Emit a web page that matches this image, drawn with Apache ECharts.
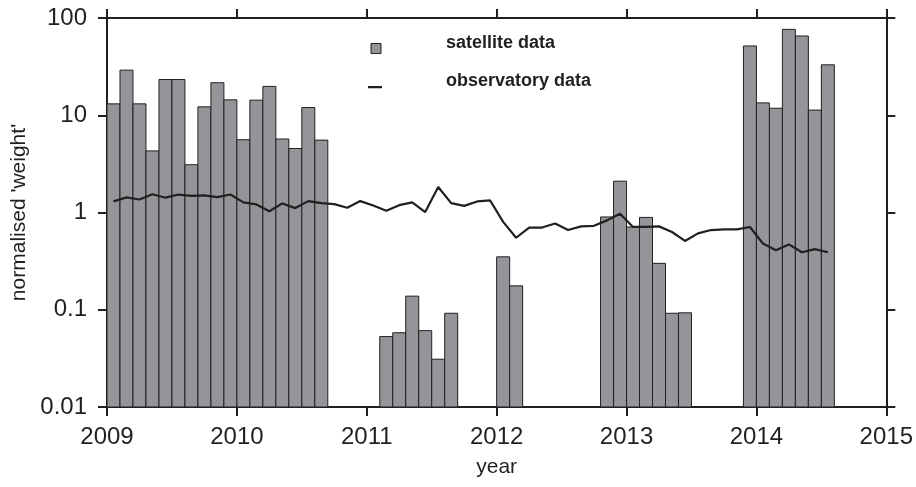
<!DOCTYPE html>
<html>
<head>
<meta charset="utf-8">
<script src="https://cdn.jsdelivr.net/npm/echarts@6/dist/echarts.min.js"></script>
<style>
html,body{margin:0;padding:0;background:#fff;}
#chart{width:916px;height:487px;}
</style>
</head>
<body>
<div id="chart"></div>
<script>
// ---- data (decimal years, normalised weight) ----
var satTime = [
  2009.0, 2009.1, 2009.2, 2009.3, 2009.4, 2009.5, 2009.6, 2009.7, 2009.8, 2009.9,
  2010.0, 2010.1, 2010.2, 2010.3, 2010.4, 2010.5, 2010.6,
  2011.1, 2011.2, 2011.3, 2011.4, 2011.5, 2011.6,
  2012.0, 2012.1,
  2012.8, 2012.9, 2013.0, 2013.1, 2013.2, 2013.3, 2013.4,
  2013.9, 2014.0, 2014.1, 2014.2, 2014.3, 2014.4, 2014.5
];
var satValue = [
  13.1, 29.1, 13.1, 4.3, 23.3, 23.3, 3.1, 12.2, 21.6, 14.4,
  5.6, 14.3, 19.8, 5.7, 4.55, 12.0, 5.55,
  0.053, 0.058, 0.138, 0.061, 0.031, 0.092,
  0.35, 0.176,
  0.90, 2.1, 0.71, 0.89, 0.30, 0.092, 0.093,
  51.6, 13.4, 11.8, 76.4, 65.3, 11.3, 33.0
];
var obsTime = [
  2009.05, 2009.15, 2009.25, 2009.35, 2009.45, 2009.55, 2009.65, 2009.75, 2009.85, 2009.95,
  2010.05, 2010.15, 2010.25, 2010.35, 2010.45, 2010.55, 2010.65, 2010.75, 2010.85, 2010.95,
  2011.05, 2011.15, 2011.25, 2011.35, 2011.45, 2011.55, 2011.65, 2011.75, 2011.85, 2011.95,
  2012.05, 2012.15, 2012.25, 2012.35, 2012.45, 2012.55, 2012.65, 2012.75, 2012.85, 2012.95,
  2013.05, 2013.15, 2013.25, 2013.35, 2013.45, 2013.55, 2013.65, 2013.75, 2013.85, 2013.95,
  2014.05, 2014.15, 2014.25, 2014.35, 2014.45, 2014.55
];
var obsValue = [
  1.30, 1.43, 1.36, 1.54, 1.42, 1.53, 1.48, 1.50, 1.44, 1.53,
  1.27, 1.21, 1.03, 1.24, 1.11, 1.31, 1.25, 1.22, 1.12, 1.31,
  1.18, 1.04, 1.19, 1.27, 1.01, 1.83, 1.25, 1.17, 1.30, 1.33,
  0.80, 0.55, 0.70, 0.70, 0.77, 0.66, 0.72, 0.73, 0.83, 0.97,
  0.71, 0.71, 0.72, 0.63, 0.51, 0.61, 0.66, 0.67, 0.67, 0.71,
  0.48, 0.41, 0.47, 0.39, 0.42, 0.39
];
var yearTicks = [2009, 2010, 2011, 2012, 2013, 2014, 2015];
var weightTicks = [0.01, 0.1, 1, 10, 100];
var seriesNames = ['satellite data', 'observatory data'];
var xTitle = 'year';
var yTitle = "normalised 'weight'";

// ---- chart ----
var INK = '#231f20';
var BAR_FILL = '#939598';
var BAR_SPAN = 0.1; // years covered by each satellite bar
var Y_MIN = weightTicks[0], Y_MAX = weightTicks[weightTicks.length - 1];
var X_MIN = yearTicks[0], X_MAX = yearTicks[yearTicks.length - 1];

var satData = satTime.map(function (t, i) { return [t, t + BAR_SPAN, satValue[i]]; });
var obsData = obsTime.map(function (t, i) { return [t, obsValue[i]]; });

var FONT = '"Liberation Sans", Arial, Helvetica, sans-serif';

// legend icons: 14x20 box; a tiny anchor point at the top keeps the marker
// below the text centre line, as in the original figure
var ICON_SQUARE = 'path://M0,0L0.01,0ZM2,10H12V20H2Z';
var ICON_DASH = 'path://M0,0L0.01,0ZM0,19.99L0.01,20ZM0,15H14V17.2H0Z';

var baseX = {
  type: 'value', min: X_MIN, max: X_MAX, interval: 1,
  splitLine: { show: false },
  axisLine: { show: true, onZero: false, lineStyle: { color: INK, width: 2 } },
  axisTick: { show: true, inside: false, length: 9, lineStyle: { color: INK, width: 2 } }
};
var baseY = {
  type: 'log', logBase: 10, min: Y_MIN, max: Y_MAX,
  splitLine: { show: false },
  axisLine: { show: true, onZero: false, lineStyle: { color: INK, width: 2 } },
  axisTick: { show: true, inside: false, length: 9, lineStyle: { color: INK, width: 2 } }
};

var chart = echarts.init(document.getElementById('chart'), null, { renderer: 'canvas' });
chart.setOption({
  animation: false,
  backgroundColor: '#ffffff',
  textStyle: { fontFamily: FONT },
  grid: { left: 107, right: 29, top: 18, bottom: 80, containLabel: false },
  legend: {
    orient: 'vertical',
    left: 363, top: 28,
    padding: 5,
    itemWidth: 14, itemHeight: 20,
    itemGap: 17,
    selectedMode: false,
    textStyle: {
      fontFamily: FONT, fontSize: 18, fontWeight: 'bold', color: INK,
      lineHeight: 18, padding: [0, 0, 0, 59]
    },
    data: [
      { name: seriesNames[0], icon: ICON_SQUARE,
        itemStyle: { color: BAR_FILL, borderColor: INK, borderWidth: 1 } },
      { name: seriesNames[1], icon: ICON_DASH,
        itemStyle: { color: INK, borderWidth: 0 } }
    ]
  },
  xAxis: [
    Object.assign({}, baseX, {
      position: 'bottom',
      name: xTitle, nameLocation: 'middle', nameGap: 50,
      nameTextStyle: { fontFamily: FONT, fontSize: 21, color: INK },
      axisLabel: { show: true, fontFamily: FONT, fontSize: 24, color: INK, margin: 18,
        formatter: function (v) { return String(v); } }
    }),
    Object.assign({}, baseX, { position: 'top', axisLabel: { show: false } })
  ],
  yAxis: [
    Object.assign({}, baseY, {
      position: 'left',
      name: yTitle, nameLocation: 'middle', nameGap: 77, nameRotate: 90,
      nameTextStyle: { fontFamily: FONT, fontSize: 21, color: INK },
      axisLabel: { show: true, fontFamily: FONT, fontSize: 24, color: INK, margin: 20,
        formatter: function (v) { return String(v); } }
    }),
    Object.assign({}, baseY, { position: 'right', axisLabel: { show: false } })
  ],
  series: [
    {
      name: seriesNames[0],
      type: 'custom',
      xAxisIndex: 0, yAxisIndex: 0,
      itemStyle: { color: BAR_FILL },
      encode: { x: [0, 1], y: 2 },
      data: satData,
      renderItem: function (params, api) {
        var p0 = api.coord([api.value(0), Y_MIN]);
        var p1 = api.coord([api.value(1), api.value(2)]);
        return {
          type: 'rect',
          shape: { x: p0[0], y: p1[1], width: p1[0] - p0[0], height: p0[1] - p1[1] },
          style: { fill: BAR_FILL, stroke: INK, lineWidth: 1 }
        };
      }
    },
    {
      name: seriesNames[1],
      type: 'line',
      xAxisIndex: 0, yAxisIndex: 0,
      data: obsData,
      showSymbol: false,
      symbol: 'none',
      itemStyle: { color: INK },
      lineStyle: { color: INK, width: 2.2 },
      z: 5
    }
  ]
});
</script>
</body>
</html>
